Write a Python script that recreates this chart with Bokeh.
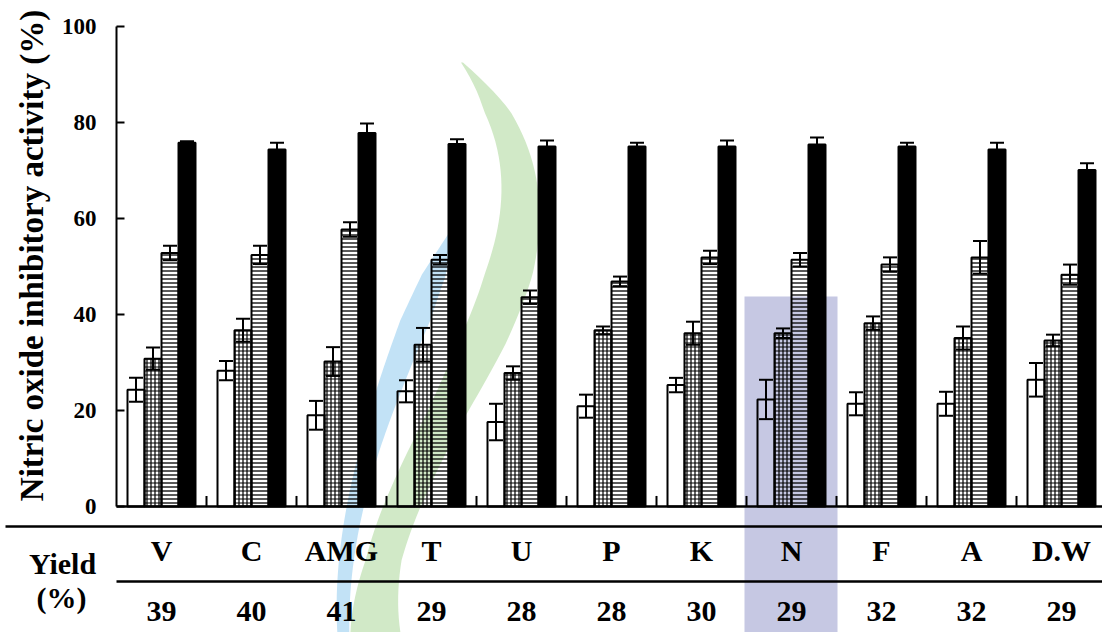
import numpy as np
from bokeh.plotting import figure
from bokeh.models import ColumnDataSource, Whisker, TeeHead, Range1d
from bokeh.embed import file_html
from bokeh.resources import INLINE
from bokeh.core.properties import value

# Extract groups and their extraction yields (%)
categories = ["V", "C", "AMG", "T", "U", "P", "K", "N", "F", "A", "D.W"]
yields = [39, 40, 41, 29, 28, 28, 30, 29, 32, 32, 29]

# Nitric oxide inhibitory activity (%) at four treatment levels, with error
level1 = [24.3, 28.3, 19.0, 24.0, 17.6, 20.9, 25.3, 22.3, 21.4, 21.4, 26.4]
level1_err = [2.5, 2.0, 3.0, 2.3, 3.8, 2.4, 1.5, 4.1, 2.4, 2.5, 3.5]
level2 = [30.8, 36.7, 30.2, 33.7, 27.8, 36.7, 36.1, 36.1, 38.2, 35.1, 34.6]
level2_err = [2.3, 2.4, 3.0, 3.5, 1.4, 0.8, 2.4, 1.0, 1.4, 2.4, 1.2]
level3 = [52.8, 52.4, 57.7, 51.4, 43.6, 46.9, 51.9, 51.4, 50.4, 51.9, 48.3]
level3_err = [1.5, 1.9, 1.5, 1.0, 1.4, 1.0, 1.4, 1.4, 1.5, 3.4, 2.1]
level4 = [75.8, 74.4, 77.8, 75.5, 75.0, 75.0, 75.0, 75.4, 75.0, 74.4, 70.1]
level4_err = [0.3, 1.4, 2.0, 1.0, 1.25, 0.8, 1.25, 1.5, 0.8, 1.4, 1.4]

y_ticks = [0, 20, 40, 60, 80, 100]

W, H = 1102, 632
AXIS_X, ZERO_Y, TOP_Y = 116, 506, 26      # canvas pixels of the axes
GROUP_PX = 90                               # width of one extract group
UNIT_PX = (ZERO_Y - TOP_Y) / 100.0


def gx(px):
    """canvas x pixel -> group coordinate"""
    return (px - AXIS_X) / GROUP_PX


def gy(px):
    """canvas y pixel -> activity coordinate"""
    return (ZERO_Y - px) / UNIT_PX


FONT = value("Liberation Serif")
n = len(categories)
centres = np.arange(n) + 0.5
bar_w = 17 / GROUP_PX
x_end = gx(W)

p = figure(width=W, height=H, x_range=Range1d(gx(0), x_end), y_range=Range1d(gy(H), gy(0)),
           output_backend="svg", toolbar_location=None, x_axis_location=None,
           min_border=0, outline_line_color=None)
p.grid.grid_line_color = None


# faint page watermark behind the chart: two swooshes and a panel
def swoosh(spine, widths, colour, alpha):
    ys = np.linspace(spine[0][0], spine[-1][0], 80)
    sy, sx = zip(*spine)
    cx = np.polyval(np.polyfit(sy, sx, 3), ys)
    wy, ww = zip(*widths)
    half = np.interp(ys, wy, ww) / 2
    xs = np.concatenate([cx + half, (cx - half)[::-1]])
    yy = np.concatenate([ys, ys[::-1]])
    p.patch(gx(xs), gy(yy), fill_color=colour, fill_alpha=alpha, line_color=None, level="underlay")


swoosh([(62, 466), (110, 488), (200, 522), (274, 512), (346, 480), (417, 440), (489, 408),
        (560, 386), (632, 374)],
       [(62, 2), (110, 26), (200, 38), (274, 48), (346, 48), (417, 40), (489, 38), (560, 36), (632, 50)],
       "#c9e5bd", 0.85)
swoosh([(228, 449), (274, 440), (320, 414), (381, 388), (450, 368), (530, 353), (632, 342)],
       [(228, 2), (274, 24), (320, 30), (381, 26), (450, 20), (530, 16), (632, 12)],
       "#b7ddf5", 0.85)
p.quad(left=[gx(744)], right=[gx(837)], top=[gy(296)], bottom=[gy(H)], fill_color="#c6c8e3",
       line_color=None, level="underlay")

ax = p.yaxis[0]
ax.fixed_location = 0
ax.ticker = y_ticks
ax.bounds = (0, 100)
ax.axis_line_width = 2
ax.major_tick_in = 8
ax.major_tick_out = 0
ax.major_tick_line_width = 2
ax.minor_tick_line_color = None
ax.major_label_standoff = 20
ax.major_label_text_font = "Liberation Serif"
ax.major_label_text_font_style = "bold"
ax.major_label_text_font_size = "23px"
ax.major_label_text_color = "black"

p.text(x=[gx(31)], y=[gy(255)], text=["Nitric oxide inhibitory activity (%)"], angle=np.pi / 2,
       text_font=FONT, text_font_style="bold", text_font_size="33px",
       text_align="center", text_baseline="middle")

# bottom axis line and group separator ticks
p.segment(x0=[0], y0=[0], x1=[x_end], y1=[0], line_color="black", line_width=2.5)
seps = np.arange(1, n)
p.segment(x0=seps, y0=0, x1=seps, y1=2.2, line_color="black", line_width=2)

# open, cross-hatched, line-hatched and solid bars
styles = [
    dict(fill_color=None),
    dict(fill_color=None, hatch_pattern="+", hatch_scale=4, hatch_weight=1.2, hatch_color="black"),
    dict(fill_color=None, hatch_pattern="-", hatch_scale=4, hatch_weight=1.3, hatch_color="black"),
    dict(fill_color="black"),
]
series = [(level1, level1_err), (level2, level2_err), (level3, level3_err), (level4, level4_err)]

for k, ((vals, errs), st) in enumerate(zip(series, styles)):
    vals = np.array(vals)
    errs = np.array(errs)
    xs = centres + (k - 1.5) * bar_w
    src = ColumnDataSource(dict(x=xs, top=vals, upper=vals + errs, lower=vals - errs))
    p.vbar(x="x", top="top", bottom=0, width=bar_w, source=src,
           line_color="black", line_width=2, **st)
    p.add_layout(Whisker(source=src, base="x", upper="upper", lower="lower",
                         line_color="black", line_width=2,
                         upper_head=TeeHead(size=14, line_width=2, line_color="black"),
                         lower_head=TeeHead(size=14, line_width=2, line_color="black")))

# yield table beneath the chart
p.segment(x0=[gx(5)], y0=[gy(526)], x1=[x_end], y1=[gy(526)], line_color="black", line_width=2.5)
p.segment(x0=[0], y0=[gy(581)], x1=[x_end], y1=[gy(581)], line_color="black", line_width=2.5)

txt = dict(text_font=FONT, text_font_style="bold", text_font_size="30px",
           text_align="center", text_baseline="middle")
p.text(x=centres, y=[gy(550)] * n, text=categories, **txt)
p.text(x=centres, y=[gy(611)] * n, text=[str(v) for v in yields], **txt)
p.text(x=[gx(62)], y=[gy(563)], text=["Yield"], **txt)
p.text(x=[gx(61)], y=[gy(597)], text=["(%)"], **txt)

open("out.html", "w").write(file_html(p, INLINE))
